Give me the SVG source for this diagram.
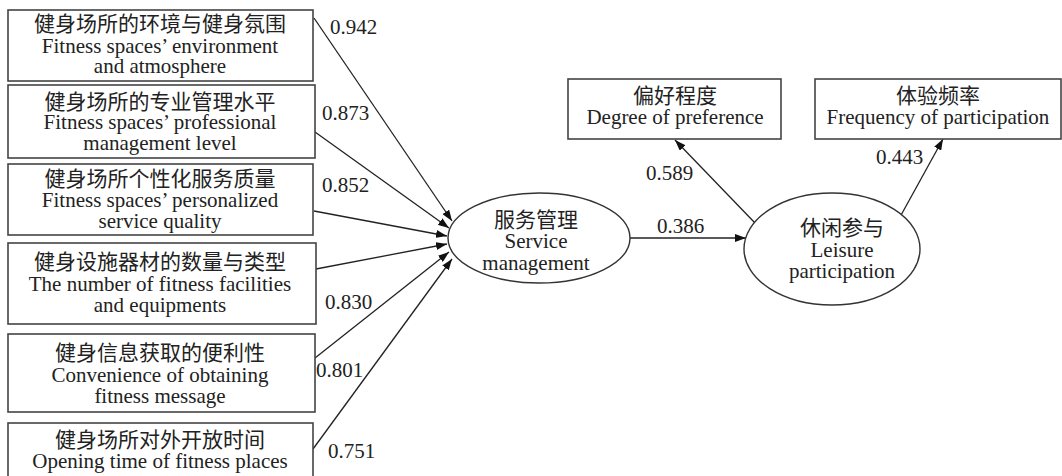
<svg xmlns="http://www.w3.org/2000/svg" width="1062" height="476" viewBox="0 0 1062 476">
<style>
.box{fill:#fff;stroke:#444;stroke-width:1.6}
.ell{fill:#fff;stroke:#333;stroke-width:1.4}
.t{font-family:"Liberation Serif","Noto Sans CJK SC",serif;font-size:21px;fill:#222;text-anchor:middle}
.n{font-family:"Liberation Serif",serif;font-size:21px;fill:#222}
.c{stroke:#222;stroke-width:1.3;fill:none;marker-end:url(#ah)}
</style>
<defs>
<marker id="ah" markerUnits="userSpaceOnUse" markerWidth="12" markerHeight="8" refX="11" refY="4" orient="auto">
<path d="M0,0 L11,4 L0,8 z" fill="#111"/>
</marker>
</defs>
<rect width="1062" height="476" fill="#fff"/>
<g id="connectors">
<line class="c" x1="314" y1="18" x2="452" y2="221"/>
<line class="c" x1="315" y1="132" x2="449" y2="228"/>
<line class="c" x1="314" y1="211" x2="447" y2="236"/>
<line class="c" x1="316" y1="269" x2="447" y2="244"/>
<line class="c" x1="315" y1="358" x2="449" y2="252"/>
<line class="c" x1="313" y1="449" x2="452" y2="259"/>
<line class="c" x1="630" y1="238" x2="746" y2="238"/>
<line class="c" x1="755" y1="223" x2="675" y2="140"/>
<line class="c" x1="900" y1="217" x2="943" y2="139"/>
<text class="n" x="330" y="34">0.942</text>
<text class="n" x="322" y="120">0.873</text>
<text class="n" x="322" y="192">0.852</text>
<text class="n" x="325" y="309">0.830</text>
<text class="n" x="316" y="377">0.801</text>
<text class="n" x="328" y="458">0.751</text>
<text class="n" x="657" y="233">0.386</text>
<text class="n" x="646" y="180">0.589</text>
<text class="n" x="876" y="164">0.443</text>
</g>
<g id="n1">
<rect class="box" x="8" y="10" width="305" height="71"/>
<text class="t" x="160" y="31">健身场所的环境与健身氛围</text>
<text class="t" x="160" y="53">Fitness spaces’ environment</text>
<text class="t" x="160" y="73">and atmosphere</text>
</g>
<g id="n2">
<rect class="box" x="8" y="85" width="307" height="73"/>
<text class="t" x="160" y="109">健身场所的专业管理水平</text>
<text class="t" x="160" y="129">Fitness spaces’ professional</text>
<text class="t" x="160" y="150">management level</text>
</g>
<g id="n3">
<rect class="box" x="8" y="164" width="305" height="71"/>
<text class="t" x="160" y="186">健身场所个性化服务质量</text>
<text class="t" x="160" y="207">Fitness spaces’ personalized</text>
<text class="t" x="160" y="228">service quality</text>
</g>
<g id="n4">
<rect class="box" x="8" y="243" width="308" height="81"/>
<text class="t" x="160" y="269">健身设施器材的数量与类型</text>
<text class="t" x="160" y="291">The number of fitness facilities</text>
<text class="t" x="160" y="312">and equipments</text>
</g>
<g id="n5">
<rect class="box" x="8" y="334" width="307" height="78"/>
<text class="t" x="160" y="360">健身信息获取的便利性</text>
<text class="t" x="160" y="382">Convenience of obtaining</text>
<text class="t" x="160" y="403">fitness message</text>
</g>
<g id="n6">
<rect class="box" x="8" y="423" width="305" height="60"/>
<text class="t" x="160" y="447">健身场所对外开放时间</text>
<text class="t" x="160" y="468">Opening time of fitness places</text>
</g>
<g id="service">
<ellipse class="ell" cx="539" cy="238" rx="91" ry="45"/>
<text class="t" x="536" y="227">服务管理</text>
<text class="t" x="536" y="248">Service</text>
<text class="t" x="536" y="270">management</text>
</g>
<g id="leisure">
<ellipse class="ell" cx="832" cy="249" rx="88" ry="56"/>
<text class="t" x="842" y="235">休闲参与</text>
<text class="t" x="842" y="257">Leisure</text>
<text class="t" x="842" y="278">participation</text>
</g>
<g id="pref">
<rect class="box" x="568" y="79" width="213" height="60"/>
<text class="t" x="675" y="103">偏好程度</text>
<text class="t" x="675" y="124">Degree of preference</text>
</g>
<g id="freq">
<rect class="box" x="815" y="79" width="246" height="60"/>
<text class="t" x="938" y="103">体验频率</text>
<text class="t" x="938" y="124">Frequency of participation</text>
</g>
</svg>
